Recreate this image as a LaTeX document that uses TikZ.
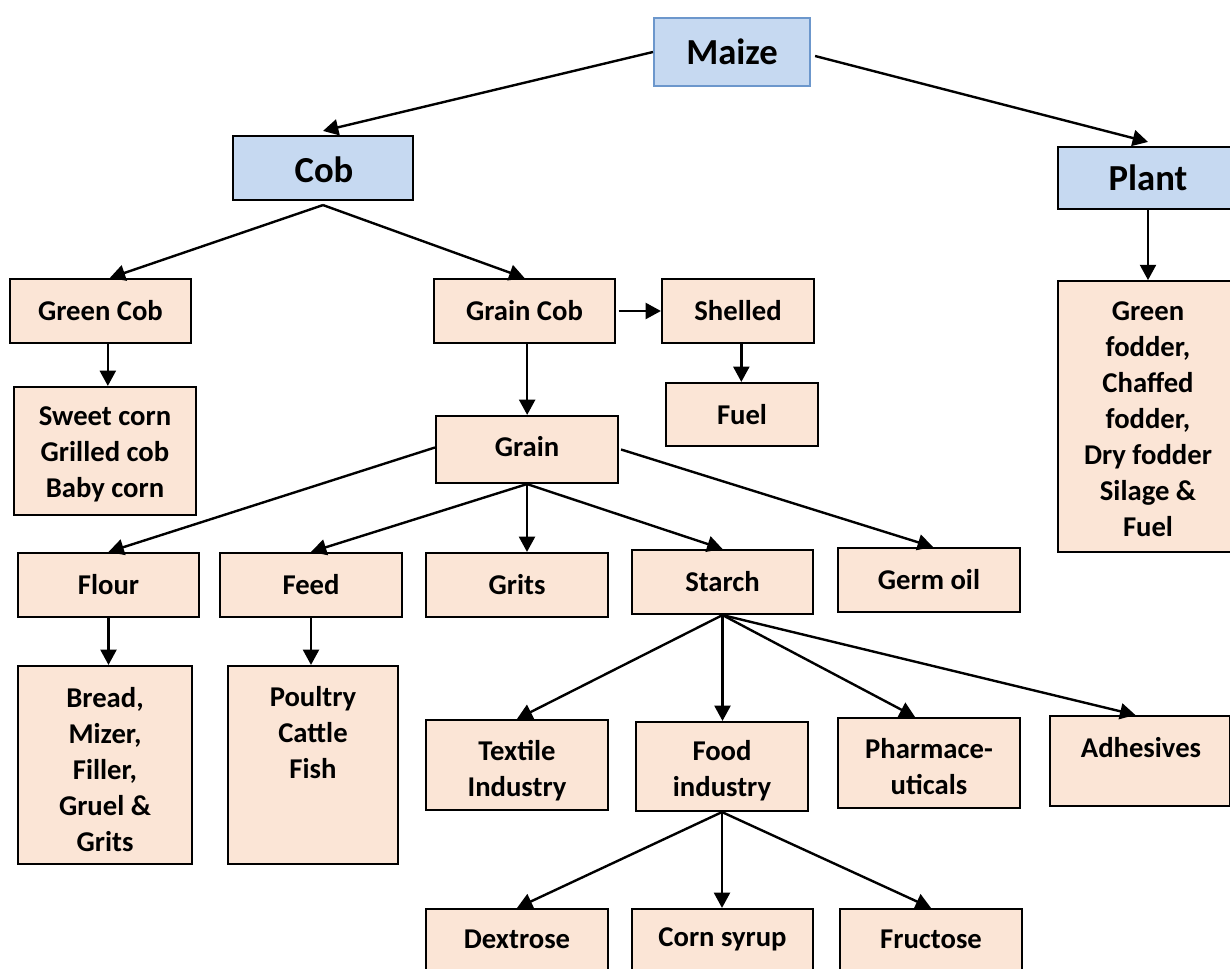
\documentclass[tikz,border=0pt]{standalone}
\usepackage{fontspec}
\setmainfont{Carlito}
\usetikzlibrary{arrows.meta}
\definecolor{peach}{HTML}{FBE5D6}
\definecolor{lblue}{HTML}{C6D9F1}
\definecolor{mblue}{HTML}{6C97CC}
\tikzset{
  box/.style={draw=black, line width=1.6pt, fill=peach, align=center, inner sep=0pt,
    font=\fontsize{21.5}{27}\selectfont\bfseries},
  topbox/.style={box, fill=lblue, font=\fontsize{27.5}{32}\selectfont\bfseries},
  txt/.style={align=center, inner sep=0pt, font=\fontsize{21.5}{27}\selectfont\bfseries},
  arr/.style={line width=1.8pt, -{Triangle[length=11.5pt,width=12pt]}},
}
\begin{document}
\begin{tikzpicture}[x=0.75pt,y=-0.75pt]
\clip (0,0) rectangle (1230,969);
\fill[white] (0,0) rectangle (1230,969);
% top level
\node[topbox, draw=mblue, minimum width=117pt, minimum height=51pt] (maize) at (732,52) {Maize};
\node[topbox, minimum width=135pt, minimum height=48pt] (cob) at (323,168) {};
\node[txt, font=\fontsize{27.5}{32}\selectfont\bfseries] (cobt) at (324,170) {Cob};
\node[topbox, minimum width=135pt, minimum height=46.5pt] (plant) at (1148,178) {Plant};
\node[box, minimum width=135pt, minimum height=203pt] (fodder) at (1148,416.5) {};
\node[txt] (foddert) at (1148,419.5) {Green\\fodder,\\Chaffed\\fodder,\\Dry fodder\\Silage \&\\Fuel};
% cob level
\node[box, minimum width=135.75pt, minimum height=48pt] (greencob) at (100.5,311) {Green Cob};
\node[box, minimum width=136.5pt, minimum height=96pt] (sweet) at (105,451) {};
\node[txt] (sweett) at (105,454) {Sweet corn\\Grilled cob\\Baby corn};
\node[box, minimum width=135.75pt, minimum height=48pt] (graincob) at (524.5,311) {Grain Cob};
\node[box, minimum width=114pt, minimum height=48pt] (shelled) at (738,311) {Shelled};
\node[box, minimum width=114pt, minimum height=47.25pt] (fuel) at (742,414.5) {Fuel};
\node[box, minimum width=136.5pt, minimum height=50.25pt] (grain) at (527,449.5) {};
\node[txt] (graint) at (527,447) {Grain};
% grain products
\node[box, minimum width=135.75pt, minimum height=48pt] (flour) at (108.5,585) {Flour};
\node[box, minimum width=136.5pt, minimum height=48pt] (feed) at (311,585) {Feed};
\node[box, minimum width=136.5pt, minimum height=48pt] (grits) at (517,585) {Grits};
\node[box, minimum width=135.75pt, minimum height=48pt] (starch) at (722.5,582) {Starch};
\node[box, minimum width=136.5pt, minimum height=48pt] (germ) at (929,580) {Germ oil};
\node[box, minimum width=130.5pt, minimum height=148.5pt] (bread) at (105,765) {};
\node[txt] (breadt) at (105,770) {Bread,\\Mizer,\\Filler,\\Gruel \&\\Grits};
\node[box, minimum width=127.5pt, minimum height=148.5pt] (poultry) at (313,765) {};
\node[txt] (poultryt) at (313,733) {Poultry\\Cattle\\Fish};
% starch products
\node[box, minimum width=136.5pt, minimum height=67.5pt] (textile) at (517,765) {};
\node[txt] (textilet) at (517,771) {Textile\\Industry};
\node[box, minimum width=129pt, minimum height=66.75pt] (food) at (722,766.5) {};
\node[txt] (foodt) at (722,770.5) {Food\\industry};
\node[box, minimum width=136.5pt, minimum height=67.5pt] (pharma) at (929,763) {};
\node[txt] (pharmat) at (929,767) {Pharmace-\\uticals};
\node[box, minimum width=135pt, minimum height=67.5pt] (adhesives) at (1140,761) {};
\node[txt] (adhesivest) at (1141,748) {Adhesives};
% food products
\node[box, minimum width=136.5pt, minimum height=48pt] (dextrose) at (517,941) {};
\node[txt] (dextroset) at (517,939) {Dextrose};
\node[box, minimum width=135.75pt, minimum height=48pt] (cornsyrup) at (722.5,941) {};
\node[txt] (cornsyrupt) at (722.5,939) {Corn syrup};
\node[box, minimum width=136.5pt, minimum height=48pt] (fructose) at (931,941) {};
\node[txt] (fructoset) at (931,939) {Fructose};
% connectors
\draw[arr] (maize.west) -- ([yshift=3pt]cob.north);
\draw[arr] ([xshift=3pt,yshift=-3pt]maize.east) -- ([yshift=3pt]plant.north);
\draw[arr] ([yshift=-3pt]cob.south) -- ([xshift=7pt]greencob.north);
\draw[arr] ([yshift=-3pt]cob.south) -- (graincob.north);
\draw[arr] ([xshift=5.5pt]greencob.south) -- ([xshift=5.5pt]greencob.south |- sweet.north);
\draw[arr] ([xshift=2pt]graincob.east) -- (shelled.west);
\draw[arr] ([xshift=2pt]graincob.south) -- ([xshift=2pt]graincob.south |- grain.north);
\draw[arr] ([xshift=2.5pt]shelled.south) -- ([xshift=2.5pt]shelled.south |- fuel.north);
\draw[arr] ([yshift=1.5pt]grain.west) -- (flour.north);
\draw[arr] (grain.south) -- (feed.north);
\draw[arr] (grain.south) -- (grain.south |- grits.north);
\draw[arr] (grain.south) -- (starch.north);
\draw[arr] ([xshift=1.5pt]grain.east) -- ([xshift=3pt]germ.north);
\draw[arr] (flour.south) -- (flour.south |- bread.north);
\draw[arr] (feed.south) -- (feed.south |- poultry.north);
\draw[arr] (starch.south) -- (textile.north);
\draw[arr] (starch.south) -- (starch.south |- food.north);
\draw[arr] (starch.south) -- ([xshift=-10.5pt]pharma.north);
\draw[arr] (starch.south) -- ([xshift=-3.5pt]adhesives.north);
\draw[arr] (plant.south) -- (plant.south |- fodder.north);
\draw[arr] (food.south) -- (dextrose.north);
\draw[arr] (food.south) -- (food.south |- cornsyrup.north);
\draw[arr] (food.south) -- (fructose.north);
\end{tikzpicture}
\end{document}
